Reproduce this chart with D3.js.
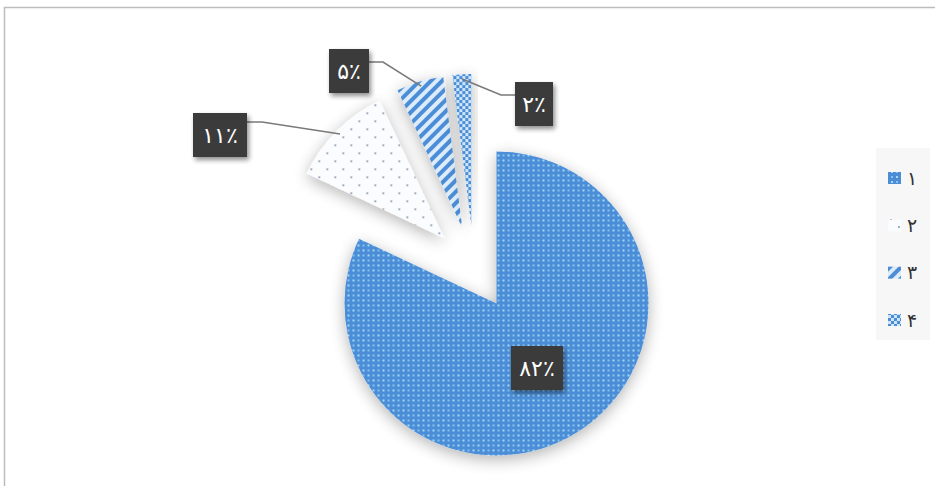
<!DOCTYPE html>
<html>
<head>
<meta charset="utf-8">
<script src="https://cdn.jsdelivr.net/npm/d3@7/dist/d3.min.js"></script>
<style>
  html, body { margin: 0; padding: 0; background: #ffffff; }
  svg { display: block; }
</style>
</head>
<body>
<svg id="chart" width="935" height="486"></svg>
<script>
// Share of each group (percent)
const categories = ["۱", "۲", "۳", "۴"];
const values = [82, 11, 5, 2];
const valueLabels = ["۸۲٪", "۱۱٪", "۵٪", "۲٪"];

const svg = d3.select("#chart");
const defs = svg.append("defs");

// Fill patterns for the four slices
const p1 = defs.append("pattern").attr("id", "pat1").attr("patternUnits", "userSpaceOnUse")
  .attr("width", 10).attr("height", 10);
p1.append("rect").attr("width", 10).attr("height", 10).attr("fill", "#4c8dd6");
p1.append("rect").attr("x", 1).attr("y", 1).attr("width", 2).attr("height", 2).attr("fill", "#a6daf7");
p1.append("rect").attr("x", 6).attr("y", 6).attr("width", 2).attr("height", 2).attr("fill", "#a6daf7");
p1.append("rect").attr("x", 6).attr("y", 1).attr("width", 2).attr("height", 2).attr("fill", "#86c2ec");
p1.append("rect").attr("x", 1).attr("y", 6).attr("width", 2).attr("height", 2).attr("fill", "#86c2ec");

const p2 = defs.append("pattern").attr("id", "pat2").attr("patternUnits", "userSpaceOnUse")
  .attr("width", 16).attr("height", 16);
p2.append("rect").attr("width", 16).attr("height", 16).attr("fill", "#fbfcfe");
p2.append("circle").attr("cx", 3).attr("cy", 3).attr("r", 1.1).attr("fill", "#8a9cb0");
p2.append("circle").attr("cx", 11).attr("cy", 11).attr("r", 1.1).attr("fill", "#8a9cb0");

const p3 = defs.append("pattern").attr("id", "pat3").attr("patternUnits", "userSpaceOnUse")
  .attr("width", 8).attr("height", 8).attr("patternTransform", "rotate(45)");
p3.append("rect").attr("width", 8).attr("height", 8).attr("fill", "#dcecfa");
p3.append("rect").attr("x", 0).attr("width", 4).attr("height", 8).attr("fill", "#4c8dd6");

const p4 = defs.append("pattern").attr("id", "pat4").attr("patternUnits", "userSpaceOnUse")
  .attr("width", 6).attr("height", 6);
p4.append("rect").attr("width", 6).attr("height", 6).attr("fill", "#cfe6f8");
p4.append("rect").attr("x", 0).attr("y", 0).attr("width", 3).attr("height", 3).attr("fill", "#4c8dd6");
p4.append("rect").attr("x", 3).attr("y", 3).attr("width", 3).attr("height", 3).attr("fill", "#4c8dd6");

const fills = ["url(#pat1)", "url(#pat2)", "url(#pat3)", "url(#pat4)"];

// Soft shadows
const sh = defs.append("filter").attr("id", "shadow").attr("x", "-30%").attr("y", "-30%")
  .attr("width", "160%").attr("height", "160%");
sh.append("feGaussianBlur").attr("in", "SourceAlpha").attr("stdDeviation", 8).attr("result", "b");
sh.append("feOffset").attr("in", "b").attr("dx", 0).attr("dy", 4).attr("result", "o");
sh.append("feComponentTransfer").attr("in", "o").attr("result", "s")
  .append("feFuncA").attr("type", "linear").attr("slope", 0.3);
const m1 = sh.append("feMerge");
m1.append("feMergeNode").attr("in", "s");
m1.append("feMergeNode").attr("in", "SourceGraphic");

const shb = defs.append("filter").attr("id", "boxShadow").attr("x", "-40%").attr("y", "-40%")
  .attr("width", "180%").attr("height", "180%");
shb.append("feGaussianBlur").attr("in", "SourceAlpha").attr("stdDeviation", 2.5).attr("result", "b");
shb.append("feOffset").attr("in", "b").attr("dx", 2).attr("dy", 3).attr("result", "o");
shb.append("feComponentTransfer").attr("in", "o").attr("result", "s")
  .append("feFuncA").attr("type", "linear").attr("slope", 0.45);
const m2 = shb.append("feMerge");
m2.append("feMergeNode").attr("in", "s");
m2.append("feMergeNode").attr("in", "SourceGraphic");

// Chart area frame
svg.append("rect").attr("x", 4.5).attr("y", 7.5).attr("width", 940).attr("height", 490)
  .attr("fill", "#ffffff").attr("stroke", "#bdbdbd").attr("stroke-width", 1.5);

// Pie
const cx = 474, cy = 268, radius = 152, explode = 42;
const pie = d3.pie().sort(null).value(d => d).startAngle(0).endAngle(2 * Math.PI);
const arcs = pie(values);
const arc = d3.arc().innerRadius(0).outerRadius(radius);

function offset(a, dist) {
  const mid = (a.startAngle + a.endAngle) / 2;
  return [Math.sin(mid) * dist, -Math.cos(mid) * dist];
}

const g = svg.append("g").attr("transform", `translate(${cx},${cy})`);
g.selectAll("path.slice")
  .data(arcs)
  .enter().append("path")
  .attr("class", "slice")
  .attr("d", arc)
  .attr("fill", (d, i) => fills[i])
  .attr("filter", "url(#shadow)")
  .attr("transform", d => { const o = offset(d, explode); return `translate(${o[0]},${o[1]})`; });

// Data labels: box centres and leader lines
const labelPos = [[537, 368], [220, 135], [349, 71], [534, 104]];
const labelW = [52, 54, 40, 38];
const labelH = 44;

const leaders = [
  null,
  { box: [247, 122], knee: [262, 122] },
  { box: [369, 62], knee: [383, 62] },
  { box: [515, 95], knee: [501, 95] }
];

arcs.forEach((a, i) => {
  const L = leaders[i];
  if (!L) return;
  const o = offset(a, explode);
  const mid = (a.startAngle + a.endAngle) / 2;
  const r = radius * 0.97;
  const tip = [cx + o[0] + Math.sin(mid) * r, cy + o[1] - Math.cos(mid) * r];
  svg.append("polyline")
    .attr("points", [L.box, L.knee, tip].map(p => p.join(",")).join(" "))
    .attr("fill", "none").attr("stroke", "#7a7a7a").attr("stroke-width", 1.6);
});

const labels = svg.append("g");
valueLabels.forEach((t, i) => {
  const [x, y] = labelPos[i];
  const gg = labels.append("g").attr("transform", `translate(${x},${y})`);
  gg.append("rect")
    .attr("x", -labelW[i] / 2).attr("y", -labelH / 2)
    .attr("width", labelW[i]).attr("height", labelH)
    .attr("fill", "#3b3b3b").attr("filter", "url(#boxShadow)");
  gg.append("text")
    .attr("text-anchor", "middle").attr("dy", "0.38em")
    .attr("fill", "#ffffff")
    .attr("font-family", "'DejaVu Sans', sans-serif")
    .attr("font-weight", "normal").attr("font-size", 22)
    .style("direction", "ltr")
    .text(t);
});

// Legend
const legend = svg.append("g");
legend.append("rect").attr("x", 876).attr("y", 148).attr("width", 54).attr("height", 192)
  .attr("fill", "#f7f7f7");
const legendY = d3.scalePoint().domain(categories).range([178, 320]);
categories.forEach((c, i) => {
  const y = legendY(c);
  legend.append("rect").attr("x", 888).attr("y", y - 6).attr("width", 13).attr("height", 12)
    .attr("fill", fills[i]);
  legend.append("text").attr("x", 907).attr("y", y).attr("dy", "0.35em")
    .attr("fill", "#333333")
    .attr("font-family", "'DejaVu Sans', sans-serif")
    .attr("font-size", 19)
    .text(c);
});
</script>
</body>
</html>
